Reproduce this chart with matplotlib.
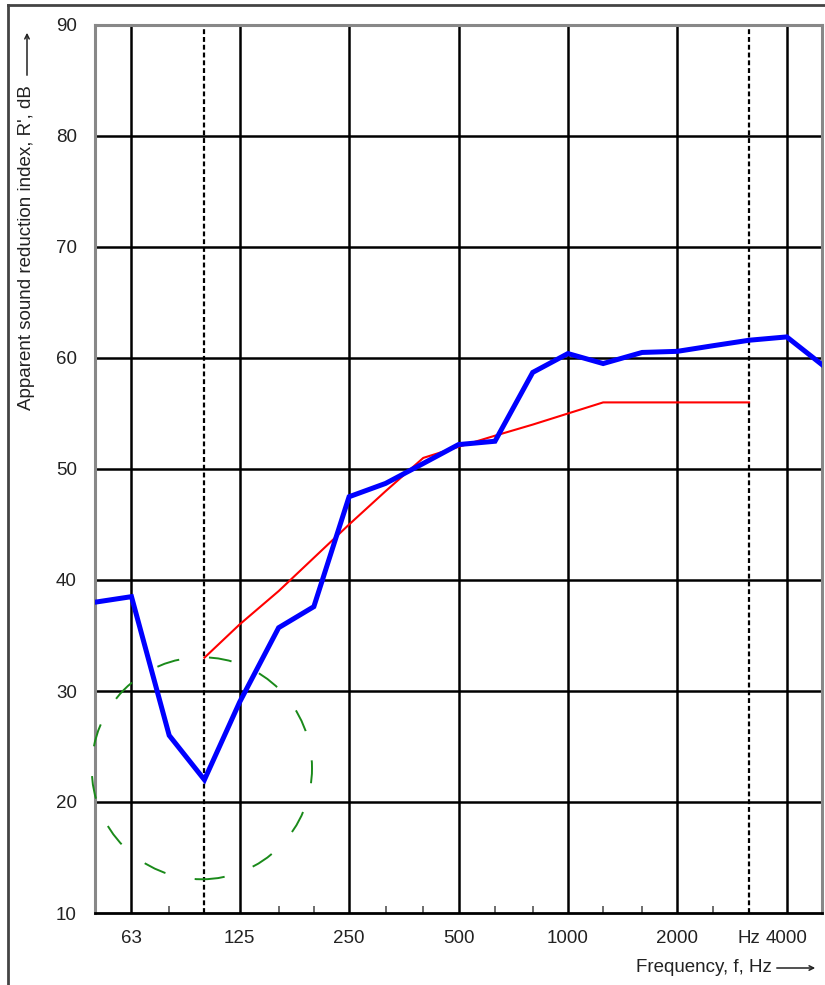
import numpy as np
import matplotlib
matplotlib.use("Agg")
import matplotlib.pyplot as plt
from matplotlib.patches import Ellipse
from matplotlib.lines import Line2D

plt.rcParams['font.family'] = ['Liberation Sans', 'DejaVu Sans']

# third-octave bands, Hz
bands = [50, 63, 80, 100, 125, 160, 200, 250, 315, 400, 500, 630,
         800, 1000, 1250, 1600, 2000, 2500, 3150, 4000, 5000]
# measured R', dB
measured = [38.0, 38.5, 26.0, 22.0, 29.0, 35.7, 37.6, 47.5, 48.7, 50.5, 52.2, 52.5,
            58.7, 60.4, 59.5, 60.5, 60.6, 61.1, 61.6, 61.9, 59.4]
# reference curve (shifted)
ref_bands = [100, 125, 160, 200, 250, 315, 400, 500, 630, 800,
             1000, 1250, 1600, 2000, 2500, 3150]
ref_values = [33, 36, 39, 42, 45, 48, 51, 52, 53, 54, 55, 56, 56, 56, 56, 56]

major_ticks = [63, 125, 250, 500, 1000, 2000, 3150, 4000]
major_labels = ['63', '125', '250', '500', '1000', '2000', 'Hz', '4000']
minor_ticks = [80, 160, 200, 315, 400, 630, 800, 1250, 1600, 2500]
solid_vlines = [63, 125, 250, 500, 1000, 2000, 4000]
dashed_vlines = [100, 3150]
hlines = [20, 30, 40, 50, 60, 70, 80]

fig = plt.figure(figsize=(8.25, 9.85), dpi=100)
ax = fig.add_axes([95/825, 1-913/985, 727/825, 888/985])
ax.set_xscale('log')
ax.set_xlim(50, 5000)
ax.set_ylim(10, 90)

for y in hlines:
    ax.axhline(y, color='black', lw=1.8, zorder=1)
for f in solid_vlines:
    ax.axvline(f, color='black', lw=1.8, zorder=1)
for f in dashed_vlines:
    ax.axvline(f, color='black', lw=1.6, ls=(0, (2.2, 1.3)), zorder=1)

ax.plot(ref_bands, ref_values, color='red', lw=1.5, zorder=3)
ax.plot(bands, measured, color='blue', lw=3.6, zorder=4, solid_joinstyle='miter')

circle = Ellipse((0.147, 0.163), 0.303, 0.25, transform=ax.transAxes,
                 fill=False, edgecolor='#1a8a1a', lw=1.4, ls=(0, (11.8, 15.4)),
                 zorder=5, clip_on=False)
ax.add_patch(circle)

ax.xaxis.set_major_locator(matplotlib.ticker.FixedLocator(major_ticks))
ax.xaxis.set_major_formatter(matplotlib.ticker.FixedFormatter(major_labels))
ax.xaxis.set_minor_locator(matplotlib.ticker.FixedLocator(minor_ticks))
ax.xaxis.set_minor_formatter(matplotlib.ticker.NullFormatter())
ax.tick_params(axis='x', which='major', length=0, pad=12, labelsize=13.5,
               labelcolor='#222222')
ax.tick_params(axis='x', which='minor', direction='in', length=5, width=1.2,
               color='#555555')
ax.set_yticks([10, 20, 30, 40, 50, 60, 70, 80, 90])
ax.tick_params(axis='y', length=0, pad=13, labelsize=13.5, labelcolor='#222222')

for side in ['left', 'top', 'right']:
    ax.spines[side].set_color('#888888')
    ax.spines[side].set_linewidth(2.2)
ax.spines['bottom'].set_color('black')
ax.spines['bottom'].set_linewidth(2)

fig.text(27/825, 1-248/985, "Apparent sound reduction index, R', dB",
         rotation=90, ha='center', va='center', fontsize=13.5, color='#222222')
fig.text(772/825, 1-968/985, "Frequency, f, Hz",
         ha='right', va='center', fontsize=13.5, color='#222222')

# arrows after axis labels
fig.add_artist(matplotlib.patches.FancyArrowPatch(
    (774/825, 1-968/985), (818/825, 1-968/985), transform=fig.transFigure,
    arrowstyle='->', mutation_scale=8, lw=1.1, color='#222222'))
fig.add_artist(matplotlib.patches.FancyArrowPatch(
    (27/825, 1-78/985), (27/825, 1-30/985), transform=fig.transFigure,
    arrowstyle='->', mutation_scale=8, lw=1.1, color='#222222'))

# outer frame
fig.add_artist(Line2D([8/825, 8/825], [0, 1-5/985], color='#444444', lw=2))
fig.add_artist(Line2D([8/825, 1], [1-5/985, 1-5/985], color='#444444', lw=2))

fig.savefig('out.png', dpi=100)
